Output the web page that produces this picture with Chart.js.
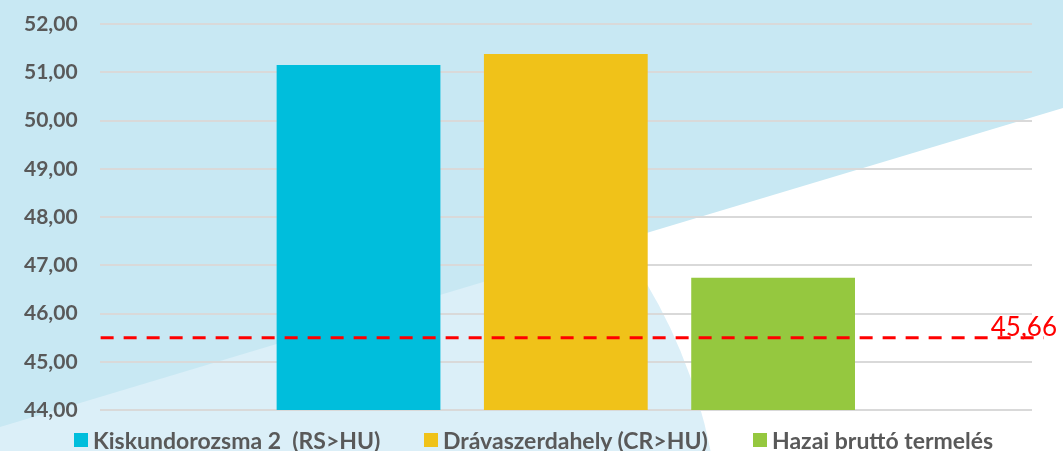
<!DOCTYPE html>
<html>
<head>
<meta charset="utf-8">
<script src="https://cdn.jsdelivr.net/npm/chart.js@4/dist/chart.umd.min.js"></script>
<style>
  html, body { margin: 0; padding: 0; background: #ffffff; }
  #wrap { position: relative; width: 1063px; height: 451px; overflow: hidden; }
  #chart { display: block; }
  #legend { position: absolute; left: 0; top: 0; width: 1063px; height: 451px; pointer-events: none; }
  .item { position: absolute; top: 428px; display: flex; align-items: center; white-space: pre;
          font-family: Lato; font-weight: bold; font-size: 23px; color: #595959; line-height: 24px; }
  .box { width: 14px; height: 14px; margin-right: 5px; }
</style>
</head>
<body>
<div id="wrap"><canvas id="chart" width="1063" height="451"></canvas><div id="legend"></div></div>
<script>
// ======================= DATA =======================
const categories = [''];
const seriesNames = ['Kiskundorozsma 2  (RS>HU)', 'Drávaszerdahely (CR>HU)', 'Hazai bruttó termelés'];
const seriesValues = [51.15, 51.38, 46.74];
const referenceValue = 45.5;
const referenceLabel = '45,66';
const yMin = 44;
const yMax = 52;
const yStep = 1;

// ======================= STYLE =======================
const seriesColors = ['#00bedc', '#f0c219', '#95c83f'];
const legendLeft = [74, 424, 753];
const textGray = '#595959';
const gridGray = '#d9d9d9';

// background shapes (diagonal band + soft arc)
const backgroundPlugin = {
  id: 'backgroundShapes',
  beforeDraw(chart) {
    const ctx = chart.ctx;
    const w = chart.width, h = chart.height;
    ctx.save();
    ctx.fillStyle = '#ffffff';
    ctx.fillRect(0, 0, w, h);
    // lighter arc
    ctx.beginPath();
    ctx.arc(200, 550, 520, 0, Math.PI * 2);
    ctx.fillStyle = '#dbeff8';
    ctx.fill();
    // darker band above the diagonal
    ctx.beginPath();
    ctx.moveTo(0, 0);
    ctx.lineTo(w, 0);
    ctx.lineTo(w, 108);
    ctx.lineTo(0, 427);
    ctx.closePath();
    ctx.fillStyle = '#c8e8f3';
    ctx.fill();
    ctx.restore();
  }
};

// red dashed reference line with its label
const referencePlugin = {
  id: 'referenceLine',
  afterDatasetsDraw(chart) {
    const ctx = chart.ctx;
    const area = chart.chartArea;
    const y = chart.scales.y.getPixelForValue(referenceValue);
    ctx.save();
    ctx.strokeStyle = '#ff0000';
    ctx.lineWidth = 3;
    ctx.setLineDash([13, 10]);
    ctx.beginPath();
    ctx.moveTo(area.left + 1, y);
    ctx.lineTo(area.right + 12, y);
    ctx.stroke();
    ctx.setLineDash([]);
    ctx.fillStyle = '#ff0000';
    ctx.font = '26px Lato';
    ctx.textAlign = 'right';
    ctx.textBaseline = 'alphabetic';
    ctx.fillText(referenceLabel, area.right + 25, y - 2);
    ctx.restore();
  }
};

const datasets = seriesNames.map((name, i) => ({
  label: name,
  data: [seriesValues[i]],
  backgroundColor: seriesColors[i],
  borderWidth: 0,
  barPercentage: 0.79,
  categoryPercentage: 0.667
}));

const chart = new Chart(document.getElementById('chart'), {
  type: 'bar',
  data: {
    labels: categories,
    datasets: datasets
  },
  options: {
    responsive: false,
    animation: false,
    layout: {
      autoPadding: false,
      padding: { left: 2, right: 31, top: 24, bottom: 41 }
    },
    plugins: {
      legend: { display: false },
      tooltip: { enabled: false }
    },
    scales: {
      x: {
        display: false
      },
      y: {
        min: yMin,
        max: yMax,
        // the tick padding is only meant as horizontal spacing
        afterFit: (scale) => {
          scale.paddingTop = 0;
          scale.paddingBottom = 0;
        },
        ticks: {
          stepSize: yStep,
          color: textGray,
          padding: 22,
          font: { family: 'Lato', size: 21, weight: 'bold' },
          callback: (value) => value.toFixed(2).replace('.', ',')
        },
        grid: {
          color: gridGray,
          lineWidth: 2,
          drawTicks: false
        },
        border: { display: false }
      }
    }
  },
  plugins: [backgroundPlugin, referencePlugin]
});

// legend built from the chart's datasets
const legendEl = document.getElementById('legend');
chart.data.datasets.forEach((ds, i) => {
  const item = document.createElement('div');
  item.className = 'item';
  item.style.left = legendLeft[i] + 'px';
  const box = document.createElement('span');
  box.className = 'box';
  box.style.background = ds.backgroundColor;
  const label = document.createElement('span');
  label.textContent = ds.label;
  item.appendChild(box);
  item.appendChild(label);
  legendEl.appendChild(item);
});
</script>
</body>
</html>
